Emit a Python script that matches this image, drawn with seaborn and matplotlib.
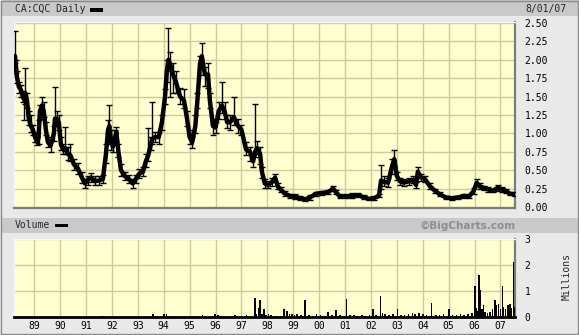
import matplotlib
matplotlib.use("Agg")
import matplotlib.pyplot as plt
import seaborn as sns
import pandas as pd
from matplotlib.patches import Rectangle

# ---------------- data ----------------
price_dates = [1988.26, 1988.30, 1988.33, 1988.41, 1988.49, 1988.56, 1988.62, 1988.65, 1988.72, 1988.79,
               1988.87, 1988.95, 1989.03, 1989.12, 1989.17, 1989.22, 1989.30, 1989.37, 1989.45, 1989.53,
               1989.64, 1989.76, 1989.80, 1989.87, 1989.95, 1990.03, 1990.12, 1990.20, 1990.30, 1990.40,
               1990.53, 1990.69, 1990.84, 1990.96, 1991.07, 1991.19, 1991.34, 1991.50, 1991.65, 1991.77,
               1991.85, 1991.90, 1991.96, 1992.04, 1992.12, 1992.17, 1992.25, 1992.35, 1992.50, 1992.65,
               1992.80, 1992.92, 1993.05, 1993.20, 1993.31, 1993.40, 1993.50, 1993.55, 1993.66, 1993.81,
               1993.93, 1994.05, 1994.12, 1994.18, 1994.24, 1994.36, 1994.47, 1994.63, 1994.78, 1994.90,
               1995.00, 1995.10, 1995.22, 1995.30, 1995.40, 1995.47, 1995.59, 1995.71, 1995.78, 1995.90,
               1996.00, 1996.12, 1996.25, 1996.35, 1996.45, 1996.56, 1996.71, 1996.87, 1997.00, 1997.18,
               1997.33, 1997.45, 1997.53, 1997.60, 1997.72, 1997.79, 1997.90, 1998.03, 1998.18, 1998.30,
               1998.40, 1998.53, 1998.68, 1998.88, 1999.07, 1999.26, 1999.46, 1999.65, 1999.88, 2000.11,
               2000.34, 2000.54, 2000.65, 2000.81, 2001.04, 2001.27, 2001.50, 2001.73, 2001.92, 2002.12,
               2002.31, 2002.39, 2002.50, 2002.66, 2002.81, 2002.90, 2003.00, 2003.12, 2003.27, 2003.47,
               2003.62, 2003.74, 2003.81, 2003.93, 2004.08, 2004.28, 2004.47, 2004.66, 2004.89, 2005.12,
               2005.36, 2005.59, 2005.78, 2005.97, 2006.08, 2006.20, 2006.35, 2006.51, 2006.70, 2006.89,
               2007.05, 2007.20, 2007.36, 2007.55]
price_close = [2.05, 1.90, 1.77, 1.63, 1.59, 1.50, 1.45, 1.55, 1.45, 1.20,
               1.10, 1.05, 0.95, 0.88, 0.95, 1.30, 1.38, 1.30, 1.05, 0.88,
               0.84, 1.00, 1.20, 1.20, 1.15, 0.85, 0.78, 0.80, 0.72, 0.70,
               0.58, 0.52, 0.40, 0.32, 0.37, 0.40, 0.35, 0.36, 0.38, 0.72,
               1.05, 1.10, 0.90, 0.82, 0.95, 1.02, 0.75, 0.50, 0.42, 0.38,
               0.32, 0.38, 0.45, 0.48, 0.62, 0.70, 0.85, 0.92, 0.95, 0.95,
               1.15, 1.50, 1.85, 2.00, 1.95, 1.80, 1.70, 1.50, 1.45, 1.20,
               0.95, 0.88, 1.10, 1.45, 1.95, 2.05, 1.80, 1.80, 1.45, 1.10,
               1.08, 1.30, 1.38, 1.30, 1.15, 1.15, 1.22, 1.10, 1.05, 0.78,
               0.75, 0.62, 0.75, 0.80, 0.72, 0.48, 0.32, 0.30, 0.34, 0.40,
               0.28, 0.23, 0.18, 0.15, 0.14, 0.12, 0.10, 0.13, 0.18, 0.19,
               0.20, 0.25, 0.20, 0.14, 0.14, 0.15, 0.16, 0.13, 0.11, 0.12,
               0.15, 0.36, 0.34, 0.33, 0.55, 0.65, 0.42, 0.35, 0.33, 0.35,
               0.37, 0.30, 0.48, 0.40, 0.38, 0.28, 0.22, 0.17, 0.13, 0.12,
               0.13, 0.15, 0.14, 0.22, 0.33, 0.28, 0.26, 0.24, 0.22, 0.26,
               0.24, 0.22, 0.18, 0.17]
price_high = [2.39, 2.00, 1.85, 1.70, 1.66, 1.58, 1.55, 1.89, 1.55, 1.30,
              1.25, 1.12, 1.02, 0.95, 1.18, 1.38, 1.49, 1.42, 1.15, 0.95,
              0.90, 1.10, 1.63, 1.30, 1.25, 0.95, 0.85, 1.09, 0.82, 0.85,
              0.65, 0.60, 0.48, 0.38, 0.42, 0.46, 0.42, 0.42, 0.44, 0.85,
              1.18, 1.39, 1.05, 0.92, 1.05, 1.09, 0.85, 0.58, 0.48, 0.44,
              0.38, 0.44, 0.52, 0.55, 0.72, 1.07, 0.95, 1.43, 1.02, 1.02,
              1.25, 1.60, 2.00, 2.43, 2.10, 1.95, 1.85, 1.62, 1.60, 1.30,
              1.05, 0.95, 1.25, 1.55, 2.05, 2.23, 1.90, 1.95, 1.55, 1.20,
              1.15, 1.42, 1.70, 1.42, 1.25, 1.25, 1.50, 1.20, 1.12, 0.88,
              0.82, 0.70, 1.40, 0.90, 0.82, 0.55, 0.38, 0.35, 0.40, 0.45,
              0.33, 0.27, 0.22, 0.18, 0.17, 0.15, 0.13, 0.16, 0.21, 0.22,
              0.23, 0.29, 0.23, 0.17, 0.17, 0.19, 0.19, 0.16, 0.13, 0.15,
              0.18, 0.57, 0.42, 0.40, 0.65, 0.77, 0.48, 0.40, 0.38, 0.40,
              0.42, 0.34, 0.55, 0.45, 0.42, 0.32, 0.25, 0.20, 0.15, 0.14,
              0.15, 0.17, 0.17, 0.26, 0.38, 0.32, 0.29, 0.27, 0.25, 0.30,
              0.27, 0.25, 0.21, 0.20]
price_low = [1.95, 1.82, 1.68, 1.55, 1.50, 1.42, 1.18, 1.40, 1.35, 1.12,
             1.02, 0.98, 0.88, 0.84, 0.86, 1.20, 1.25, 1.22, 0.98, 0.82,
             0.75, 0.90, 1.10, 1.10, 1.05, 0.78, 0.72, 0.72, 0.64, 0.62,
             0.50, 0.45, 0.32, 0.26, 0.30, 0.34, 0.30, 0.30, 0.32, 0.60,
             0.85, 0.95, 0.78, 0.75, 0.85, 0.90, 0.68, 0.42, 0.36, 0.32,
             0.26, 0.32, 0.40, 0.42, 0.55, 0.62, 0.78, 0.85, 0.88, 0.86,
             1.05, 1.40, 1.70, 1.85, 1.50, 1.55, 1.55, 1.40, 1.35, 1.10,
             0.85, 0.80, 1.00, 1.35, 1.80, 1.90, 1.65, 1.62, 1.35, 0.98,
             1.00, 1.20, 1.28, 1.20, 1.08, 1.05, 1.12, 1.00, 0.98, 0.70,
             0.62, 0.55, 0.68, 0.72, 0.58, 0.40, 0.26, 0.26, 0.28, 0.34,
             0.24, 0.20, 0.15, 0.12, 0.11, 0.10, 0.08, 0.10, 0.15, 0.16,
             0.17, 0.22, 0.17, 0.12, 0.12, 0.12, 0.13, 0.11, 0.09, 0.10,
             0.13, 0.25, 0.28, 0.27, 0.45, 0.55, 0.36, 0.30, 0.29, 0.30,
             0.32, 0.26, 0.42, 0.35, 0.34, 0.24, 0.19, 0.15, 0.11, 0.10,
             0.11, 0.12, 0.12, 0.18, 0.28, 0.24, 0.23, 0.21, 0.20, 0.22,
             0.21, 0.19, 0.16, 0.15]

vol_dates = [1988.3, 1988.8, 1989.3, 1989.8, 1990.3, 1990.8, 1991.3, 1991.62, 1991.68, 1992.3,
             1992.9, 1993.59, 1994.02, 1994.10, 1994.3, 1994.8, 1995.3, 1995.5, 1995.6, 1995.97,
             1996.1, 1996.25, 1996.76, 1997.2, 1997.52, 1997.58, 1997.65, 1997.72, 1997.80, 1997.87,
             1997.95, 1998.05, 1998.15, 1998.30, 1998.50, 1998.65, 1998.75, 1998.85, 1998.95, 1999.05,
             1999.15, 1999.30, 1999.46, 1999.6, 1999.75, 1999.9, 2000.05, 2000.2, 2000.35, 2000.5,
             2000.65, 2000.8, 2000.95, 2001.06, 2001.2, 2001.35, 2001.5, 2001.65, 2001.8, 2001.95,
             2002.07, 2002.2, 2002.37, 2002.45, 2002.55, 2002.7, 2002.85, 2003.02, 2003.15, 2003.3,
             2003.45, 2003.6, 2003.7, 2003.85, 2004.0, 2004.15, 2004.34, 2004.5, 2004.65, 2004.8,
             2005.02, 2005.15, 2005.3, 2005.45, 2005.6, 2005.75, 2005.9, 2006.02, 2006.08, 2006.12,
             2006.18, 2006.22, 2006.28, 2006.34, 2006.4, 2006.5, 2006.6, 2006.7, 2006.79, 2006.85,
             2006.93, 2007.0, 2007.07, 2007.12, 2007.2, 2007.28, 2007.36, 2007.42, 2007.5, 2007.53]
vol_millions = [0.01, 0.01, 0.01, 0.01, 0.01, 0.01, 0.01, 0.05, 0.04, 0.01,
                0.01, 0.10, 0.10, 0.12, 0.04, 0.02, 0.03, 0.07, 0.05, 0.10,
                0.06, 0.05, 0.08, 0.08, 0.73, 0.12, 0.34, 0.65, 0.10, 0.31,
                0.08, 0.10, 0.06, 0.05, 0.05, 0.29, 0.22, 0.10, 0.12, 0.08,
                0.10, 0.06, 0.65, 0.08, 0.05, 0.10, 0.06, 0.05, 0.20, 0.08,
                0.27, 0.06, 0.05, 0.69, 0.08, 0.06, 0.05, 0.07, 0.05, 0.06,
                0.30, 0.08, 0.80, 0.15, 0.12, 0.08, 0.10, 0.30, 0.08, 0.06,
                0.10, 0.15, 0.12, 0.15, 0.10, 0.08, 0.52, 0.08, 0.06, 0.10,
                0.30, 0.08, 0.06, 0.10, 0.08, 0.10, 0.15, 1.20, 0.35, 0.25,
                1.62, 1.05, 0.30, 0.45, 0.20, 0.15, 0.20, 0.30, 0.65, 0.45,
                0.50, 0.30, 1.20, 0.40, 0.30, 0.45, 0.50, 0.35, 2.12, 0.40]

year_ticks = list(range(1989, 2008))
year_labels = ["89", "90", "91", "92", "93", "94", "95", "96", "97", "98",
               "99", "00", "01", "02", "03", "04", "05", "06", "07"]
price_ticks = [0.0, 0.25, 0.5, 0.75, 1.0, 1.25, 1.5, 1.75, 2.0, 2.25, 2.5]
vol_ticks = [0, 1, 2, 3]

# ---------------- styling ----------------
sns.set_theme(style="white")
plt.rcParams['font.family'] = ['DejaVu Sans Mono', 'DejaVu Sans']

FIG_BG = '#e9e9e9'
BAR_BG = '#c9c9c9'
PANEL_BG = '#ffffcf'
GRID = '#cdcb98'

W, H = 579, 335
fig = plt.figure(figsize=(W / 100, H / 100), dpi=100, facecolor=FIG_BG)

def fx(px):
    return px / W

def fy(py):
    return 1 - py / H

# header bars
fig.patches.append(Rectangle((fx(2), fy(16)), fx(577), 16 / H, transform=fig.transFigure,
                             facecolor=BAR_BG, edgecolor='none', zorder=0))
fig.patches.append(Rectangle((fx(2), fy(233)), fx(577), 15 / H, transform=fig.transFigure,
                             facecolor=BAR_BG, edgecolor='none', zorder=0))
# outer border
fig.patches.append(Rectangle((fx(0.5), fy(333.5)), fx(577), 333 / H, transform=fig.transFigure,
                             facecolor='none', edgecolor='#8a8a8a', lw=1.0, zorder=0))

ax1 = fig.add_axes([fx(14), fy(208), fx(515 - 14), (208 - 22) / H])
ax2 = fig.add_axes([fx(14), fy(317), fx(515 - 14), (317 - 239) / H])

XMIN, XMAX = 1988.22, 2007.56

for ax in (ax1, ax2):
    ax.set_facecolor(PANEL_BG)
    ax.set_xlim(XMIN, XMAX)
    ax.set_xticks(year_ticks)
    ax.grid(True, color=GRID, lw=1.0)
    ax.set_axisbelow(True)
    ax.yaxis.tick_right()
    ax.tick_params(axis='both', length=0, labelsize=7, colors='black')
    for side in ('top', 'left'):
        ax.spines[side].set_color('#f8f8f8')
        ax.spines[side].set_linewidth(1.0)
    for side in ('bottom', 'right'):
        ax.spines[side].set_color('#7c7c7c')
        ax.spines[side].set_linewidth(1.6)

# price panel
df = pd.DataFrame({'date': price_dates, 'close': price_close,
                   'high': price_high, 'low': price_low})
ax1.vlines(df['date'], df['low'], df['high'], color='black', lw=1.0, zorder=3)
ax1.plot(df['date'], df['high'], ls='none', marker='_', ms=4, mew=1.0, color='black', zorder=3)
ax1.plot(df['date'], df['low'], ls='none', marker='_', ms=4, mew=1.0, color='black', zorder=3)
sns.lineplot(data=df, x='date', y='close', ax=ax1, color='black', lw=3.2, zorder=4)
ax1.set_ylim(-0.014, 2.514)
ax1.set_yticks(price_ticks)
ax1.set_yticklabels([f"{v:.2f}" for v in price_ticks])
ax1.set_xticklabels([])
ax1.set_xlabel('')
ax1.set_ylabel('')
ax1.tick_params(axis='y', pad=7)

# volume panel
vdf = pd.DataFrame({'date': vol_dates, 'vol': vol_millions})
ax2.bar(vdf['date'], vdf['vol'], width=0.06, color='black', edgecolor='none',
        linewidth=0, zorder=3)
ax2.set_ylim(0, 3.0)
ax2.set_yticks(vol_ticks)
ax2.set_yticklabels([str(v) for v in vol_ticks])
ax2.set_xticklabels(year_labels)
ax2.tick_params(axis='y', pad=7)
ax2.tick_params(axis='x', pad=3)
ax2.set_xlabel('')
ax2.set_ylabel('')
ax2.spines['bottom'].set_color('black')
ax2.spines['bottom'].set_linewidth(2.0)

# texts
fig.text(fx(15), fy(9), 'CA:CQC Daily', fontsize=7, va='center', ha='left')
fig.patches.append(Rectangle((fx(90), fy(11.5)), fx(13), 3.5 / H, transform=fig.transFigure,
                             facecolor='black', edgecolor='none'))
fig.text(fx(566), fy(9), '8/01/07', fontsize=7, va='center', ha='right')
fig.text(fx(15), fy(225.5), 'Volume', fontsize=7, va='center', ha='left')
fig.patches.append(Rectangle((fx(55), fy(227)), fx(13), 3.5 / H, transform=fig.transFigure,
                             facecolor='black', edgecolor='none'))
fig.text(fx(516), fy(225.5), '\u00a9BigCharts.com', fontsize=7.5, va='center', ha='right',
         family='DejaVu Sans', fontweight='bold', color='#8e8e8e')
fig.text(fx(567), fy(277), 'Millions', fontsize=7, va='center', ha='center', rotation=90)

fig.savefig('out.png', dpi=100, facecolor=FIG_BG)
